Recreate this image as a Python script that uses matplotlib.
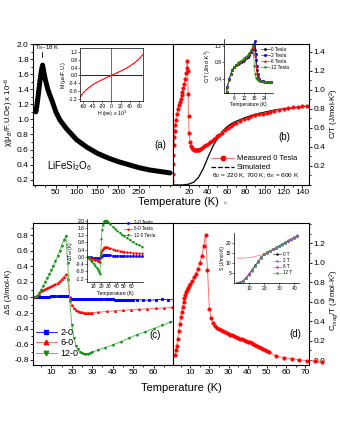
import matplotlib
matplotlib.use('Agg')
import matplotlib.pyplot as plt
from matplotlib.lines import Line2D
from matplotlib.ticker import MultipleLocator, FormatStrFormatter

plt.rcParams.update({
    'font.family': ['Liberation Sans', 'DejaVu Sans'],
    'mathtext.fontset': 'custom',
    'mathtext.rm': 'Liberation Sans',
    'mathtext.it': 'Liberation Sans:italic',
    'axes.unicode_minus': False,
    'axes.linewidth': 0.8,
})

W, H = 340, 440

# ---------------------------------------------------------------- data
# (a) susceptibility
T_chi = [2, 4, 6, 8, 10, 12, 14, 16, 18, 20, 22, 25, 30, 35, 40, 50, 60, 75,
         100, 125, 150, 175, 200, 225, 250, 275, 300, 325]
chi = [1.10, 1.17, 1.25, 1.34, 1.43, 1.52, 1.60, 1.67, 1.72, 1.66, 1.60, 1.52,
       1.41, 1.33, 1.26, 1.10, 0.99, 0.88, 0.73, 0.63, 0.55, 0.49, 0.44, 0.40,
       0.36, 0.33, 0.31, 0.29]
# (a) inset M(H)
H_field = [-68, -60, -50, -40, -30, -20, -10, 0, 10, 20, 30, 40, 50, 60, 68]
M_mag = [-1.15, -0.88, -0.66, -0.48, -0.34, -0.22, -0.11, 0.0, 0.11, 0.22,
         0.34, 0.48, 0.64, 0.85, 1.08]

# (b) total C/T, measured 0 T
T_cp = [2, 2.5, 3, 3.5, 4, 4.5, 5, 5.5, 6, 7, 8, 9, 10, 11, 12, 13, 14, 15, 16,
        17, 17.5, 18, 18.5, 19, 19.5, 20, 21, 22, 23, 24, 25, 26, 27, 28, 29,
        30, 32, 34, 36, 38, 40, 42, 44, 46, 48, 50, 52, 55, 58, 61, 64, 67, 70,
        74, 78, 82, 86, 90, 94, 98, 102, 106, 110, 115, 120, 125, 130, 135, 140,
        145]
cp_meas = [0.04, 0.12, 0.22, 0.32, 0.42, 0.50, 0.57, 0.63, 0.68, 0.75, 0.80,
           0.84, 0.87, 0.90, 0.94, 0.98, 1.02, 1.06, 1.11, 1.18, 1.23, 1.30,
           1.20, 0.95, 0.72, 0.55, 0.45, 0.41, 0.39, 0.375, 0.37, 0.365, 0.363,
           0.363, 0.365, 0.368, 0.378, 0.39, 0.405, 0.42, 0.435, 0.45, 0.465,
           0.48, 0.495, 0.51, 0.525, 0.55, 0.575, 0.60, 0.62, 0.64, 0.655,
           0.675, 0.69, 0.705, 0.72, 0.73, 0.74, 0.75, 0.76, 0.77, 0.78, 0.79,
           0.80, 0.81, 0.815, 0.82, 0.825, 0.83]
T_sim = [3, 10, 15, 20, 25, 30, 35, 40, 45, 50, 55, 60, 65, 70, 80, 90, 100,
         110, 120, 130, 140, 146]
cp_sim = [0.0, 0.0, 0.002, 0.01, 0.03, 0.08, 0.17, 0.29, 0.40, 0.49, 0.56,
          0.61, 0.645, 0.67, 0.71, 0.74, 0.765, 0.785, 0.80, 0.81, 0.82, 0.83]
# (b) inset C/T in field
T_in = [1.5, 2, 3, 4, 5, 6, 7, 8, 9, 10, 11, 12, 13, 14, 15, 16, 17, 17.5, 18,
        18.5, 19, 19.5, 20, 21, 22, 23, 24, 25, 26, 27, 28]
cp_0T = [0.08, 0.20, 0.38, 0.52, 0.62, 0.68, 0.72, 0.75, 0.78, 0.80, 0.83,
         0.86, 0.89, 0.93, 0.98, 1.04, 1.12, 1.17, 1.22, 1.10, 0.85, 0.60,
         0.45, 0.37, 0.34, 0.33, 0.32, 0.32, 0.32, 0.32, 0.32]
cp_2T = [0.08, 0.20, 0.38, 0.52, 0.62, 0.68, 0.72, 0.75, 0.78, 0.80, 0.83,
         0.86, 0.89, 0.93, 0.98, 1.04, 1.12, 1.17, 1.23, 1.30, 1.00, 0.70,
         0.50, 0.38, 0.34, 0.33, 0.32, 0.32, 0.32, 0.32, 0.32]
cp_6T = [0.08, 0.19, 0.37, 0.51, 0.61, 0.68, 0.72, 0.76, 0.79, 0.81, 0.84,
         0.87, 0.90, 0.94, 0.99, 1.06, 1.14, 1.19, 1.20, 0.95, 0.70, 0.52,
         0.43, 0.37, 0.34, 0.33, 0.32, 0.32, 0.32, 0.32, 0.32]
cp_12T = [0.08, 0.18, 0.36, 0.50, 0.61, 0.68, 0.73, 0.77, 0.80, 0.83, 0.86,
          0.89, 0.93, 0.97, 1.02, 1.09, 1.20, 1.00, 0.70, 0.50, 0.42, 0.38,
          0.36, 0.34, 0.33, 0.32, 0.32, 0.32, 0.32, 0.32, 0.32]

# (c) entropy change
T_s2 = [2, 3, 4, 5, 6, 7, 8, 9, 10, 11, 12, 13, 14, 15, 16, 17, 18, 19, 20,
        21, 22, 23, 24, 25, 26, 27, 28, 29, 30, 31, 32, 33, 34, 35, 36, 37, 38,
        39, 40, 41, 42, 43, 44, 45, 46, 47, 48, 49, 50, 52, 55, 58, 61, 64, 67,
        70]
dS_2 = [0.0, 0.002, 0.004, 0.006, 0.008, 0.010, 0.011, 0.012, 0.013, 0.014,
        0.015, 0.016, 0.018, 0.020, 0.022, 0.025, 0.020, -0.010, -0.025,
        -0.025, -0.025, -0.025, -0.025, -0.025, -0.025, -0.025, -0.025, -0.025,
        -0.025, -0.025, -0.025, -0.025, -0.025, -0.025, -0.025, -0.025, -0.025,
        -0.025, -0.025, -0.027, -0.027, -0.027, -0.027, -0.027, -0.027, -0.027,
        -0.027, -0.027, -0.027, -0.028, -0.033, -0.035, -0.030, -0.022, -0.030,
        -0.028]
T_s6 = [2, 3, 4, 5, 6, 7, 8, 9, 10, 11, 12, 13, 14, 15, 16, 17, 18, 19, 20,
        21, 22, 23, 24, 25, 26, 27, 28, 29, 30, 33, 37, 41, 45, 49, 53, 57, 61,
        65, 69]
dS_6 = [0.0, 0.02, 0.05, 0.08, 0.10, 0.115, 0.125, 0.135, 0.145, 0.16, 0.175,
        0.19, 0.21, 0.235, 0.265, 0.30, 0.24, 0.0, -0.10, -0.14, -0.16, -0.175,
        -0.183, -0.19, -0.194, -0.196, -0.197, -0.196, -0.195, -0.19, -0.18,
        -0.172, -0.165, -0.158, -0.152, -0.146, -0.14, -0.135, -0.128]
T_s12 = [2, 3, 4, 5, 6, 7, 8, 9, 10, 11, 12, 13, 14, 15, 16, 17, 18, 19, 20,
         21, 22, 23, 24, 25, 26, 27, 28, 29, 30, 33, 36, 40, 44, 48, 52, 56,
         60, 64, 68, 70]
dS_12 = [0.0, 0.02, 0.06, 0.10, 0.15, 0.20, 0.25, 0.30, 0.35, 0.41, 0.47,
         0.53, 0.60, 0.67, 0.74, 0.79, 0.45, -0.05, -0.35, -0.52, -0.62, -0.67,
         -0.70, -0.72, -0.73, -0.73, -0.725, -0.715, -0.705, -0.675, -0.645,
         -0.61, -0.57, -0.52, -0.48, -0.44, -0.40, -0.36, -0.32, -0.30]
# (c) inset adiabatic temperature change
T_ad = [2, 4, 6, 8, 10, 12, 14, 16, 17, 18, 19, 20, 21, 22, 23, 24, 25, 26, 27,
        28, 30, 32, 35, 38, 41, 44, 47, 50, 54, 58, 62, 66, 70, 74]
dT_2 = [0.0, -0.02, -0.03, -0.04, -0.05, -0.05, -0.05, -0.06, -0.06, -0.05,
        0.0, 0.05, 0.07, 0.08, 0.08, 0.08, 0.08, 0.08, 0.08, 0.08, 0.08, 0.08,
        0.075, 0.07, 0.07, 0.065, 0.06, 0.06, 0.055, 0.05, 0.05, 0.05, 0.045,
        0.045]
dT_6 = [0.0, -0.03, -0.06, -0.09, -0.12, -0.15, -0.19, -0.23, -0.25, -0.26,
        0.0, 0.25, 0.38, 0.45, 0.50, 0.53, 0.55, 0.55, 0.54, 0.53, 0.50, 0.47,
        0.43, 0.39, 0.36, 0.33, 0.31, 0.29, 0.27, 0.25, 0.23, 0.22, 0.21, 0.20]
dT_12 = [0.0, -0.10, -0.20, -0.30, -0.40, -0.50, -0.62, -0.75, -0.85, -0.95,
         0.10, 1.00, 1.50, 1.78, 1.92, 1.98, 2.00, 2.00, 1.98, 1.95, 1.88, 1.80,
         1.68, 1.56, 1.45, 1.34, 1.24, 1.15, 1.03, 0.92, 0.82, 0.72, 0.64, 0.56]

# (d) magnetic C/T
T_mag = [2, 2.5, 3, 3.5, 4, 4.5, 5, 5.5, 6, 6.5, 7, 7.5, 8, 8.5, 9, 9.5, 10,
         11, 12, 13, 14, 15, 16, 17, 18, 19, 20, 21, 22, 23, 24, 25, 26, 27, 28,
         29, 30, 31, 32, 33, 34, 35, 36, 37, 38, 39, 40, 41, 42, 43, 44, 45, 46,
         47, 48, 49, 50, 51, 55, 59, 63, 67, 71, 75, 79]
cmag = [0.05, 0.10, 0.15, 0.22, 0.30, 0.37, 0.44, 0.50, 0.55, 0.60, 0.64, 0.67,
        0.70, 0.72, 0.74, 0.76, 0.78, 0.81, 0.85, 0.89, 0.94, 1.00, 1.07, 1.17,
        1.29, 0.93, 0.53, 0.43, 0.38, 0.355, 0.335, 0.32, 0.31, 0.30, 0.29,
        0.28, 0.27, 0.262, 0.254, 0.246, 0.238, 0.23, 0.222, 0.214, 0.206,
        0.198, 0.19, 0.182, 0.174, 0.165, 0.156, 0.147, 0.138, 0.128, 0.118,
        0.108, 0.095, 0.08, 0.04, 0.025, 0.015, 0.005, -0.005, -0.01, -0.015]
# (d) inset entropy
T_S = [2, 4, 6, 8, 10, 12, 14, 16, 18, 20, 22, 24, 26, 28, 30, 32, 34, 36, 38,
       40, 42]
S_0T = [0, 0.3, 1.2, 2.7, 4.6, 6.6, 8.7, 10.8, 12.8, 14.3, 15.1, 15.9, 16.7,
        17.5, 18.3, 19.1, 19.9, 20.7, 21.5, 22.3, 23.1]
S_2T = [0, 0.3, 1.2, 2.7, 4.5, 6.5, 8.6, 10.7, 12.7, 14.2, 15.0, 15.8, 16.6,
        17.4, 18.2, 19.0, 19.8, 20.6, 21.4, 22.2, 23.0]
S_6T = [0, 0.2, 1.0, 2.5, 4.3, 6.3, 8.4, 10.5, 12.5, 14.1, 15.0, 15.8, 16.7,
        17.5, 18.4, 19.2, 20.1, 20.9, 21.8, 22.6, 23.4]
S_12T = [0, 0.2, 0.9, 2.3, 4.1, 6.1, 8.2, 10.3, 12.4, 14.2, 15.1, 15.9, 16.8,
         17.6, 18.5, 19.4, 20.2, 21.1, 21.9, 22.8, 23.6]
S_fit = [12.3, 12.3, 12.3, 12.4, 12.6, 12.8, 13.1, 13.5, 13.9, 14.5, 15.1,
         15.9, 16.7, 17.5, 18.3, 19.1, 19.9, 20.7, 21.5, 22.3, 23.1]

RED = '#ff0000'
RED_L = '#ff7070'
BLUE = '#0000ff'
GREEN = '#109010'
GREEN_L = '#60c060'

fig = plt.figure(figsize=(W / 100, H / 100), dpi=100)


def px_axes(x0, y0, x1, y1):
    return fig.add_axes([x0 / W, 1 - y1 / H, (x1 - x0) / W, (y1 - y0) / H])


def ftext(x, y, s, **kw):
    return fig.text(x / W, 1 - y / H, s, **kw)


def main_style(ax, right=False):
    ax.tick_params(which='both', direction='out', labelsize=6, width=0.6, pad=0.8)
    ax.tick_params(which='major', length=2.2)
    ax.tick_params(which='minor', length=1.2)
    if right:
        ax.yaxis.tick_right()
        ax.tick_params(axis='y', which='both', left=False)
    ax.tick_params(axis='x', which='both', top=False)


def inset_style(ax, full=False):
    ax.tick_params(which='both', direction='out', labelsize=3.6, width=0.4,
                   length=1.2, pad=0.6)
    for s in ax.spines.values():
        s.set_linewidth(0.5)
    if not full:
        ax.spines['top'].set_visible(False)
        ax.spines['right'].set_visible(False)
    ax.patch.set_alpha(0)


# ---------------------------------------------------------------- (a)
ax = px_axes(33, 44, 173, 185)
ax.plot(T_chi, chi, color='black', lw=3.6, solid_capstyle='round')
ax.set_xlim(-5, 332)
ax.set_ylim(0.13, 2.0)
ax.set_xticks([50, 100, 150, 200, 250])
ax.xaxis.set_minor_locator(MultipleLocator(25))
ax.set_yticks([0.2, 0.4, 0.6, 0.8, 1.0, 1.2, 1.4, 1.6, 1.8, 2.0])
ax.yaxis.set_minor_locator(MultipleLocator(0.1))
ax.yaxis.set_major_formatter(FormatStrFormatter('%.1f'))
main_style(ax)
ax.text(0.91, 0.26, '(a)', transform=ax.transAxes, fontsize=7, ha='center')
ax.text(0.1, 0.11, 'LiFeSi$_2$O$_6$', transform=ax.transAxes, fontsize=7)
ftext(35, 48, 'T$_N$~18 K', fontsize=4.3, va='center')
fig.add_artist(plt.Line2D([42 / W, 42 / W], [1 - 52 / H, 1 - 57 / H],
                          color='black', lw=0.6))
ftext(9, 112, 'χ(μ$_B$/F.U.Oe) x 10$^{-6}$', rotation=90, fontsize=5.6,
      ha='center', va='center')

ia = px_axes(80, 48, 143, 101)
ia.axhline(0, color='black', lw=0.6)
ia.axvline(0, color='#555555', lw=0.6)
ia.plot(H_field, M_mag, color=RED, lw=0.8)
ia.set_xlim(-67, 68)
ia.set_ylim(-1.3, 1.4)
ia.set_xticks([-60, -40, -20, 0, 20, 40, 60])
ia.set_yticks([-1.2, -0.8, -0.4, 0.0, 0.4, 0.8, 1.2])
ia.yaxis.set_major_formatter(FormatStrFormatter('%.1f'))
inset_style(ia, full=True)
ia.set_xlabel('H (oe) x 10$^3$', fontsize=3.8, labelpad=0.5)
ia.set_ylabel('M (μ$_B$/F.U.)', fontsize=3.8, labelpad=0.5)

# ---------------------------------------------------------------- (b)
ax = px_axes(173, 44, 309, 185)
ax.plot(T_sim, cp_sim, color='black', lw=0.9)
ax.plot(T_cp, cp_meas, color=RED_L, lw=0.7, marker='o', ms=2.5, mfc=RED,
        mec=RED, mew=0.4)
ax.set_xlim(3, 147)
ax.set_ylim(0.0, 1.48)
ax.set_xticks([20, 40, 60, 80, 100, 120, 140])
ax.xaxis.set_minor_locator(MultipleLocator(10))
ax.set_yticks([0.2, 0.4, 0.6, 0.8, 1.0, 1.2, 1.4])
ax.yaxis.set_minor_locator(MultipleLocator(0.1))
ax.yaxis.set_major_formatter(FormatStrFormatter('%.1f'))
main_style(ax, right=True)
handles = [Line2D([], [], color=RED_L, lw=0.7, marker='o', ms=3.2, mfc=RED, mec=RED),
           Line2D([], [], color='black', lw=0.9, ls='--')]
ax.legend(handles, ['Measured 0 Tesla', 'Simulated'], loc='center left',
          bbox_to_anchor=(0.28, 0.155), frameon=False, fontsize=5.5,
          handlelength=3.0, handletextpad=0.4, labelspacing=0.25,
          borderpad=0, borderaxespad=0)
ax.text(0.285, 0.064, 'θ$_D$ = 220 K, 700 K; θ$_E$ = 600 K',
        transform=ax.transAxes, fontsize=4.6, va='center')
ax.text(0.82, 0.32, '(b)', transform=ax.transAxes, fontsize=7, ha='center')
ftext(334, 114, 'C/T (J/mol-K$^2$)', rotation=90, fontsize=5.6,
      ha='center', va='center')

ib = px_axes(224, 39, 273, 93)
ib.plot(T_in, cp_0T, color='black', lw=0.4, marker='o', ms=1.0, label='0 Tesla')
ib.plot(T_in, cp_2T, color=BLUE, lw=0.4, marker='s', ms=1.0, label='2 Tesla')
ib.plot(T_in, cp_6T, color=RED, lw=0.4, marker='^', ms=1.0, label='6 Tesla')
ib.plot(T_in, cp_12T, color=GREEN, lw=0.4, marker='v', ms=1.0, label='12 Tesla')
ib.set_xlim(0, 29)
ib.set_ylim(0.05, 1.36)
ib.set_xticks([6, 12, 18, 24])
ib.set_yticks([0.4, 0.8, 1.2])
ib.yaxis.set_major_formatter(FormatStrFormatter('%.1f'))
inset_style(ib)
ib.set_xlabel('Temperature (K)', fontsize=3.6, labelpad=0.8)
ib.set_ylabel('C/T (J/mol-K$^2$)', fontsize=3.6, labelpad=0.8)
ib.legend(loc='upper left', bbox_to_anchor=(0.76, 0.86), frameon=False,
          fontsize=3.4, handlelength=1.8, handletextpad=0.3, labelspacing=0.25,
          borderpad=0, borderaxespad=0)

ftext(178, 202, 'Temperature (K)', fontsize=8, ha='center', va='center')
ftext(226, 203, '(e)', fontsize=2.5, ha='center', va='center', color='#555555')

# ---------------------------------------------------------------- (c)
ax = px_axes(33, 223, 173, 365)
ax.plot(T_s2, dS_2, color=BLUE, lw=0.6, marker='s', ms=1.2, mec=BLUE, label='2-0')
ax.plot(T_s6, dS_6, color=RED_L, lw=0.7, marker='^', ms=1.2, mfc=RED, mec=RED,
        label='6-0')
ax.plot(T_s12, dS_12, color=GREEN_L, lw=0.7, marker='v', ms=1.2, mfc=GREEN,
        mec=GREEN, label='12-0')
ax.set_xlim(1, 69.5)
ax.set_ylim(-0.87, 0.96)
ax.set_xticks([10, 20, 30, 40, 50, 60])
ax.xaxis.set_minor_locator(MultipleLocator(5))
ax.set_yticks([-0.8, -0.6, -0.4, -0.2, 0.0, 0.2, 0.4, 0.6, 0.8])
ax.yaxis.set_minor_locator(MultipleLocator(0.1))
ax.yaxis.set_major_formatter(FormatStrFormatter('%.1f'))
main_style(ax)
hc = [Line2D([], [], color=BLUE, lw=0.6, marker='s', ms=3.2),
      Line2D([], [], color=RED_L, lw=0.7, marker='^', ms=3.2, mfc=RED, mec=RED),
      Line2D([], [], color=GREEN_L, lw=0.7, marker='v', ms=3.2, mfc=GREEN, mec=GREEN)]
ax.legend(hc, ['2-0', '6-0', '12-0'], loc='center left',
          bbox_to_anchor=(0.02, 0.155), frameon=False, fontsize=6.5,
          handlelength=2.3, handletextpad=0.4, labelspacing=0.2,
          borderpad=0, borderaxespad=0)
ax.text(0.87, 0.19, '(c)', transform=ax.transAxes, fontsize=7, ha='center')
ftext(9, 292, 'ΔS (J/mol-K)', rotation=90, fontsize=5.6, ha='center',
      va='center')

ic = px_axes(87, 219, 143, 282)
ic.plot(T_ad, dT_2, color=BLUE, lw=0.4, marker='s', ms=0.9, label='2-0 Tesla')
ic.plot(T_ad, dT_6, color=RED, lw=0.4, marker='^', ms=0.9, label='6-0 Tesla')
ic.plot(T_ad, dT_12, color=GREEN, lw=0.4, marker='v', ms=0.9, label='12-0 Tesla')
ic.set_xlim(1, 75)
ic.set_ylim(-1.39, 2.1)
ic.set_xticks([10, 20, 30, 40, 50, 60])
ic.set_yticks([-1.2, -0.8, -0.4, 0.0, 0.4, 0.8, 1.2, 1.6, 2.0])
ic.yaxis.set_major_formatter(FormatStrFormatter('%.1f'))
inset_style(ic)
ic.set_xlabel('Temperature (K)', fontsize=3.6, labelpad=0.8)
ic.set_ylabel('ΔT$_{ad}$ (K)', fontsize=3.6, labelpad=0.5)
ic.legend(loc='upper left', bbox_to_anchor=(0.66, 0.98), frameon=False,
          fontsize=3.3, handlelength=1.8, handletextpad=0.3, labelspacing=0.25,
          borderpad=0, borderaxespad=0)

# ---------------------------------------------------------------- (d)
ax = px_axes(173, 223, 309, 365)
ax.plot(T_mag, cmag, color=RED_L, lw=0.7, marker='o', ms=2.5, mfc=RED,
        mec=RED, mew=0.4, clip_on=False)
ax.set_xlim(1, 72)
ax.set_ylim(-0.05, 1.41)
ax.set_xticks([10, 20, 30, 40, 50, 60, 70])
ax.xaxis.set_minor_locator(MultipleLocator(5))
ax.set_yticks([0.0, 0.2, 0.4, 0.6, 0.8, 1.0, 1.2])
ax.yaxis.set_minor_locator(MultipleLocator(0.1))
ax.yaxis.set_major_formatter(FormatStrFormatter('%.1f'))
main_style(ax, right=True)
ax.text(0.9, 0.2, '(d)', transform=ax.transAxes, fontsize=7, ha='center')
ftext(334, 300, 'C$_{mag}$/T (J/mol-K$^2$)', rotation=90, fontsize=5.6,
      ha='center', va='center')

idd = px_axes(234, 233, 299, 283)
idd.plot(T_S, S_fit, color=RED_L, lw=0.5)
idd.plot(T_S, S_0T, color='black', lw=0.4, marker='o', ms=0.8, label='0 T')
idd.plot(T_S, S_2T, color='#7070ff', lw=0.4, marker='o', ms=0.8, mfc='none',
         label='2 T')
idd.plot(T_S, S_6T, color='#ff00ff', lw=0.4, marker='o', ms=0.8, label='6 T')
idd.plot(T_S, S_12T, color='#40a040', lw=0.4, marker='o', ms=0.8, label='12 T')
idd.set_xlim(0, 43)
idd.set_ylim(0, 24.7)
idd.set_xticks([10, 20, 30, 40])
idd.set_yticks([5, 10, 15, 20])
inset_style(idd)
idd.set_ylabel('S (J/mol-K)', fontsize=3.4, labelpad=0.8)
idd.legend(loc='upper left', bbox_to_anchor=(0.6, 0.62), frameon=False,
           fontsize=3.3, handlelength=1.8, handletextpad=0.3, labelspacing=0.25,
           borderpad=0, borderaxespad=0)

ftext(181, 388, 'Temperature (K)', fontsize=8, ha='center', va='center')

fig.savefig('out.png', dpi=100)
